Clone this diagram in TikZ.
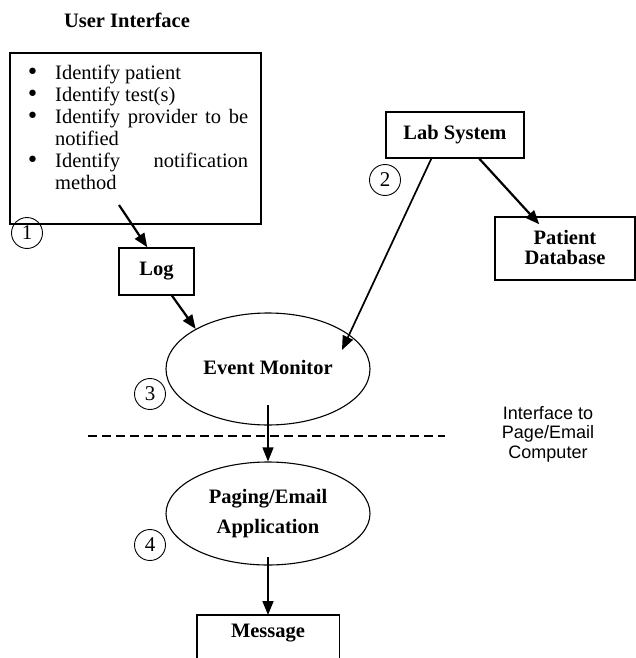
\documentclass[tikz,border=0pt]{standalone}
\usepackage{fontspec}
\setmainfont{Liberation Serif}
\newfontfamily\arialfont{Liberation Sans}
\newfontfamily\dotfont{DejaVu Sans}
\usetikzlibrary{arrows.meta,shapes.geometric,calc}
\begin{document}
\begin{tikzpicture}[x=1pt,y=-1pt,
  frame/.style={draw,line width=1.4pt,inner sep=0pt},
  oval/.style={draw,ellipse,line width=1.1pt,inner sep=0pt,align=center,
    font=\fontsize{20.5}{30}\selectfont\bfseries},
  lbl/.style={font=\fontsize{20.5}{20}\selectfont\bfseries,align=center},
  num/.style={draw,circle,line width=0.9pt,minimum size=31pt,inner sep=0pt,
    font=\fontsize{21}{21}\selectfont},
  arr/.style={line width=2.2pt,-{Triangle[length=14pt,width=11pt]}},
  midarr/.style={line width=1.7pt,-{Triangle[length=14pt,width=11pt]}},
  thinarr/.style={line width=1.3pt,-{Triangle[length=14pt,width=11pt]}}]
\useasboundingbox (0,0) rectangle (636,658);

% user interface
\node[lbl] (uititle) at (127,20) {User Interface};
\node[frame,minimum width=251pt,minimum height=171pt] (ui) at (135.5,138.5) {};
\node[anchor=north west,inner sep=0pt,text width=236pt,align=justify,
  font=\fontsize{20.5}{22}\selectfont] (tasks) at (12,57) {%
  \begin{list}{{\dotfont\fontsize{22}{22}\selectfont\raisebox{-0.02em}{•}}}{%
    \setlength\leftmargin{43pt}\setlength\labelsep{16pt}%
    \setlength\labelwidth{27pt}\setlength\itemsep{0pt}\setlength\parsep{0pt}%
    \setlength\topsep{0pt}\setlength\partopsep{0pt}}
  \item Identify patient
  \item Identify test(s)
  \item Identify provider to be notified
  \item Identify notification method
  \end{list}};
\node[num] (n1) at (27,233) {1};

% log
\node[frame,lbl,minimum width=75pt,minimum height=47pt] (log) at (156.5,271.5) {Log};
\coordinate (uiout) at (119,205);
\draw[arr] (uiout) -- ($(log.north west)+(29,0)$);

% lab system and patient database
\node[frame,lbl,minimum width=138pt,minimum height=46pt] (lab) at (455,135) {\raisebox{3pt}{Lab System}};
\node[num] (n2) at (385,180) {2};
\node[frame,minimum width=140pt,minimum height=63pt,align=center,
  font=\fontsize{20.5}{20}\selectfont\bfseries] (pd) at (565,248.5) {\raisebox{3pt}{Patient}\\\raisebox{3pt}{Database}};

% event monitor
\node[oval,minimum width=204pt,minimum height=112pt] (em) at (268,369) {\raisebox{4pt}{Event Monitor}};
\node[num] (n3) at (150,394) {3};
\coordinate (emin) at (342,350);
\draw[arr] ($(log.south)+(15.5,0)$) -- (em.151);
\draw[midarr] ($(lab.south west)+(46,0)$) -- (emin);
\draw[arr] ($(lab.south west)+(94,0)$) -- ($(pd.north west)+(45,8)$);

% network boundary
\coordinate (dl) at (88,436);
\coordinate (dr) at (445,436);
\draw[line width=1.3pt,dash pattern=on 9pt off 5pt] (dl) -- (dr);
\node[font=\arialfont\fontsize{18}{19.5}\selectfont,align=center] (iface) at (548,434)
  {Interface to\\Page/Email\\Computer};

% paging / email
\node[oval,minimum width=204pt,minimum height=103pt] (pg) at (268,513.5) {Paging/Email\\Application};
\node[num] (n4) at (150,545) {4};
\coordinate (emout) at (268,405);
\draw[thinarr] (emout) -- (pg.north);

% message
\node[lbl,anchor=north,minimum width=142pt,minimum height=36pt,inner sep=0pt] (msg) at (268,615) {Message};
\draw[frame] (msg.north west |- 0,662) -- (msg.north west) -- (msg.north east) -- (msg.north east |- 0,662);
\coordinate (pgout) at (268,557);
\draw[midarr] (pgout) -- (msg.north);
\end{tikzpicture}
\end{document}
